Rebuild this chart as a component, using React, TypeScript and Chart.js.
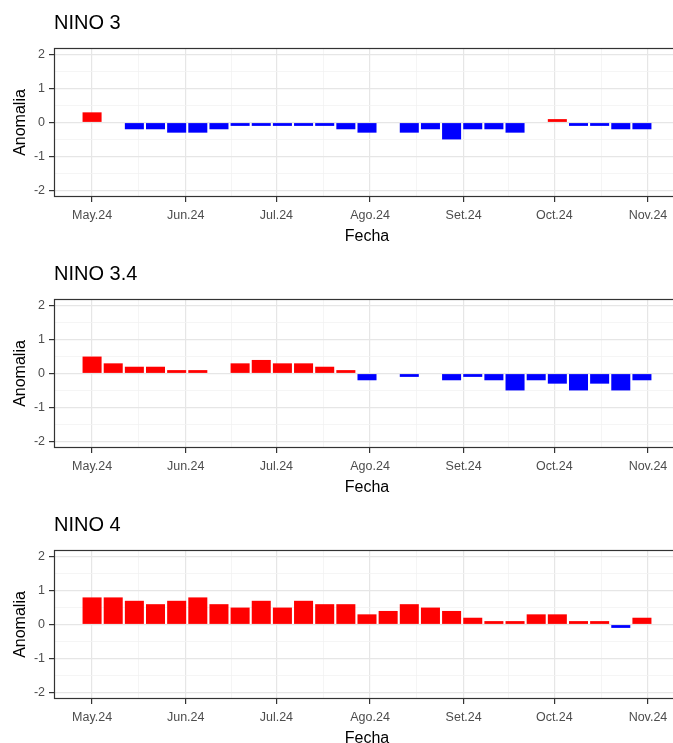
import React, { useEffect, useRef } from "react";
import { Chart, registerables } from "chart.js";

Chart.register(...registerables);

// ---- data ----
const weeks = [
  "2024-05-01", "2024-05-08", "2024-05-15", "2024-05-22", "2024-05-29",
  "2024-06-05", "2024-06-12", "2024-06-19", "2024-06-26",
  "2024-07-03", "2024-07-10", "2024-07-17", "2024-07-24", "2024-07-31",
  "2024-08-07", "2024-08-14", "2024-08-21", "2024-08-28",
  "2024-09-04", "2024-09-11", "2024-09-18", "2024-09-25",
  "2024-10-02", "2024-10-09", "2024-10-16", "2024-10-23", "2024-10-30",
];

const nino3 = [0.3, 0, -0.2, -0.2, -0.3, -0.3, -0.2, -0.1, -0.1, -0.1, -0.1, -0.1, -0.2, -0.3, 0, -0.3, -0.2, -0.5, -0.2, -0.2, -0.3, 0, 0.1, -0.1, -0.1, -0.2, -0.2];
const nino34 = [0.5, 0.3, 0.2, 0.2, 0.1, 0.1, 0, 0.3, 0.4, 0.3, 0.3, 0.2, 0.1, -0.2, 0, -0.1, 0, -0.2, -0.1, -0.2, -0.5, -0.2, -0.3, -0.5, -0.3, -0.5, -0.2];
const nino4 = [0.8, 0.8, 0.7, 0.6, 0.7, 0.8, 0.6, 0.5, 0.7, 0.5, 0.7, 0.6, 0.6, 0.3, 0.4, 0.6, 0.5, 0.4, 0.2, 0.1, 0.1, 0.3, 0.3, 0.1, 0.1, -0.1, 0.2];

const monthTicks = ["2024-05-01", "2024-06-01", "2024-07-01", "2024-08-01", "2024-09-01", "2024-10-01", "2024-11-01"];
const monthLabels = ["May.24", "Jun.24", "Jul.24", "Ago.24", "Set.24", "Oct.24", "Nov.24"];

const yTicks = [-2, -1.5, -1, -0.5, 0, 0.5, 1, 1.5, 2];
const yLabels = ["-2", "", "-1", "", "0", "", "1", "", "2"];

// ---- helpers ----
const DAY = 86400000;
const origin = Date.parse(weeks[0]);
const dayOffset = (d: string) => (Date.parse(d) - origin) / DAY;
const majorX = monthTicks.map(dayOffset);
const minorX = majorX.slice(1).map((v, i) => (v + majorX[i]) / 2);
const allX = [...majorX, ...minorX].sort((a, b) => a - b);

const X_MIN = -12.6;
const X_MAX = 194.6;

const FONT = '"Liberation Sans", Arial, Helvetica, sans-serif';
Chart.defaults.font.family = FONT;

const panelBorder = {
  id: "panelBorder",
  afterDatasetsDraw(chart: any) {
    const { ctx, chartArea } = chart;
    const { left, top, right, bottom } = chartArea;
    ctx.save();
    ctx.strokeStyle = "#333333";
    ctx.lineWidth = 1.2;
    ctx.strokeRect(left + 0.5, top + 0.5, right - left - 1, bottom - top - 1);
    ctx.restore();
  },
};

const CANVAS_W = 690;
const CANVAS_H = 251;

function Panel({ title, values, top }: { title: string; values: number[]; top: number }) {
  const ref = useRef<HTMLCanvasElement | null>(null);

  useEffect(() => {
    if (!ref.current) return;
    const data = weeks.map((w, i) => ({ x: dayOffset(w), y: values[i] }));
    const chart = new Chart(ref.current, {
      type: "bar",
      data: {
        datasets: [
          {
            data,
            backgroundColor: (ctx: any) => (ctx.raw && ctx.raw.y < 0 ? "#0000FF" : "#FF0000"),
            borderWidth: 0,
            barPercentage: 1,
            categoryPercentage: 0.9,
          },
        ],
      },
      options: {
        responsive: false,
        animation: false,
        events: [],
        layout: { padding: { left: 0, right: 10, top: 0, bottom: 0 } },
        plugins: {
          legend: { display: false },
          tooltip: { enabled: false },
          title: {
            display: true,
            text: title,
            align: "start",
            fullSize: false,
            color: "#000000",
            font: { size: 20, weight: "normal", family: FONT },
            padding: { top: 11, bottom: 13 },
          },
        },
        scales: {
          x: {
            type: "linear",
            min: X_MIN,
            max: X_MAX,
            offset: false,
            afterBuildTicks: (s: any) => {
              s.ticks = allX.map((v) => ({ value: v }));
            },
            afterFit: (s: any) => {
              s.height = 54;
            },
            ticks: {
              autoSkip: false,
              maxRotation: 0,
              padding: 6,
              color: "#4D4D4D",
              font: { size: 12.5, family: FONT },
              callback: (v: any) => {
                const i = majorX.indexOf(Number(v));
                return i >= 0 ? monthLabels[i] : "";
              },
            },
            grid: {
              offset: false,
              drawTicks: true,
              tickLength: 5,
              color: (ctx: any) => (majorX.includes(ctx.tick?.value) ? "#E6E6E6" : "#F3F3F3"),
              lineWidth: (ctx: any) => (majorX.includes(ctx.tick?.value) ? 1.2 : 0.8),
              tickColor: (ctx: any) => (majorX.includes(ctx.tick?.value) ? "#333333" : "rgba(0,0,0,0)"),
              tickWidth: 1.2,
            },
            border: { display: false },
            title: {
              display: true,
              text: "Fecha",
              color: "#000000",
              font: { size: 16, family: FONT },
              padding: { top: 0, bottom: 5 },
            },
          },
          y: {
            type: "linear",
            min: -2.2,
            max: 2.2,
            afterBuildTicks: (s: any) => {
              s.ticks = yTicks.map((v) => ({ value: v }));
            },
            afterFit: (s: any) => {
              s.width = 54;
            },
            ticks: {
              autoSkip: false,
              padding: 4,
              color: "#4D4D4D",
              font: { size: 12.5, family: FONT },
              callback: (v: any) => {
                const i = yTicks.indexOf(Number(v));
                return i >= 0 ? yLabels[i] : "";
              },
            },
            grid: {
              drawTicks: true,
              tickLength: 5,
              color: (ctx: any) => (Number.isInteger(ctx.tick?.value) ? "#E6E6E6" : "#F3F3F3"),
              lineWidth: (ctx: any) => (Number.isInteger(ctx.tick?.value) ? 1.2 : 0.8),
              tickColor: (ctx: any) => (Number.isInteger(ctx.tick?.value) ? "#333333" : "rgba(0,0,0,0)"),
              tickWidth: 1.2,
            },
            border: { display: false },
            title: {
              display: true,
              text: "Anomalia",
              color: "#000000",
              font: { size: 16, family: FONT },
              padding: { top: 11, bottom: 0 },
            },
          },
        },
      },
      plugins: [panelBorder],
    } as any);
    return () => chart.destroy();
  }, [title, values]);

  return (
    <canvas
      ref={ref}
      width={CANVAS_W}
      height={CANVAS_H}
      style={{ position: "absolute", left: 0, top, width: CANVAS_W, height: CANVAS_H, display: "block" }}
    />
  );
}

export default function App() {
  return (
    <div
      style={{
        position: "fixed",
        left: 0,
        top: 0,
        width: 673,
        height: 743,
        overflow: "hidden",
        background: "#FFFFFF",
      }}
    >
      <Panel title="NINO 3" values={nino3} top={0} />
      <Panel title="NINO 3.4" values={nino34} top={251} />
      <Panel title="NINO 4" values={nino4} top={502} />
    </div>
  );
}
